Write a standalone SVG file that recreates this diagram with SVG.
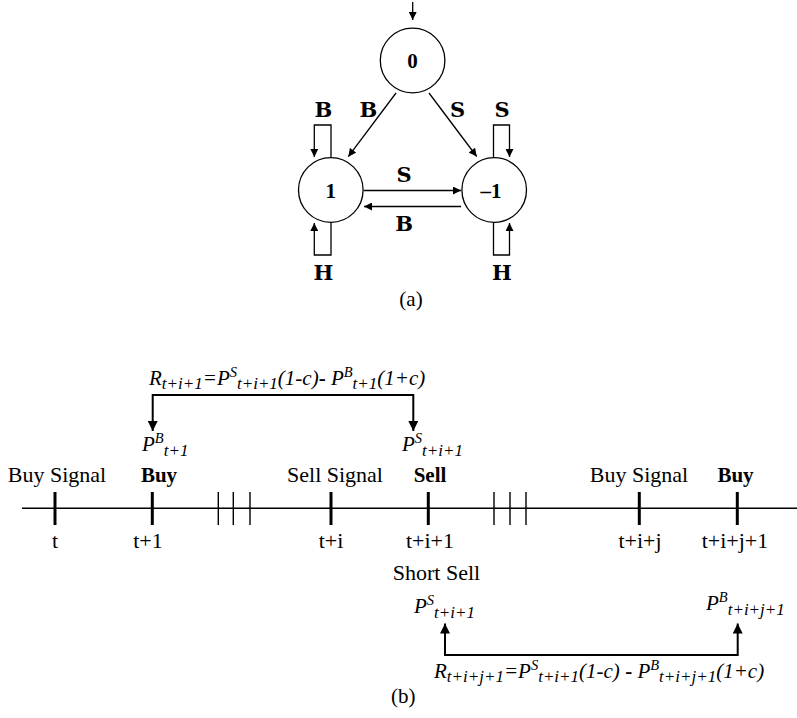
<svg xmlns="http://www.w3.org/2000/svg" width="797" height="718" viewBox="0 0 797 718">
  <style>
    .st { fill: #fff; stroke: #000; stroke-width: 1.3; }
    .num { font-family: "Liberation Serif", "Times New Roman", serif; font-weight: bold; font-size: 21px; text-anchor: middle; }
    .lbl { font-family: "DejaVu Serif", "Liberation Serif", serif; font-weight: bold; font-size: 21px; text-anchor: middle; }
    .cap { font-family: "Liberation Serif", "Times New Roman", serif; font-size: 21px; }
    .tl { font-family: "Liberation Serif", "Times New Roman", serif; font-size: 22px; text-anchor: middle; }
    .tb { font-family: "Liberation Serif", "Times New Roman", serif; font-size: 21px; font-weight: bold; text-anchor: middle; }
    .f { font-family: "Liberation Serif", "Times New Roman", serif; font-size: 21px; font-style: italic; }
    .sb { font-size: 17px; }
    .sp { font-size: 14.5px; }
    .dash { font-style: normal; font-weight: bold; }
    .ln { fill: none; stroke: #000; stroke-width: 1.3; }
    .ax { fill: none; stroke: #000; stroke-width: 1.4; }
    .bk { fill: none; stroke: #000; stroke-width: 2; }
    .tk { stroke: #000; stroke-width: 3; }
    .hk { stroke: #000; stroke-width: 1.4; }
  </style>
  <defs>
    <marker id="ah" viewBox="0 0 10 10" refX="10" refY="5" markerUnits="userSpaceOnUse" markerWidth="9" markerHeight="8" orient="auto">
      <path d="M0,0 L10,5 L0,10 z" fill="#000"/>
    </marker>
  </defs>

  <!-- (a) state machine -->
  <g id="connectors">
    <path class="ln" d="M412.7,2 V20" marker-end="url(#ah)"/>
    <path class="ln" d="M396,93 L348.3,156.7" marker-end="url(#ah)"/>
    <path class="ln" d="M429,93 L476.7,156.5" marker-end="url(#ah)"/>
    <path class="ln" d="M364,190.5 H461" marker-end="url(#ah)"/>
    <path class="ln" d="M461,206.5 H364" marker-end="url(#ah)"/>
    <path class="ln" d="M331,158 V125 H314.3 V157" marker-end="url(#ah)"/>
    <path class="ln" d="M331,222 V255 H314.3 V223" marker-end="url(#ah)"/>
    <path class="ln" d="M493.5,158 V125 H509.5 V157" marker-end="url(#ah)"/>
    <path class="ln" d="M493.5,222 V255 H509.5 V223" marker-end="url(#ah)"/>
  </g>
  <g id="edge-labels">
    <text class="lbl" x="323.3" y="117">B</text>
    <text class="lbl" x="368.3" y="117">B</text>
    <text class="lbl" x="457.5" y="117">S</text>
    <text class="lbl" x="502" y="117">S</text>
    <text class="lbl" x="404.2" y="182.3">S</text>
    <text class="lbl" x="404.2" y="230.7">B</text>
    <text class="lbl" x="323.3" y="280">H</text>
    <text class="lbl" x="502" y="280">H</text>
  </g>
  <g id="state-0">
    <circle class="st" cx="412.6" cy="60.5" r="32.3"/>
    <text class="num" x="412.6" y="67.5">0</text>
  </g>
  <g id="state-1">
    <circle class="st" cx="330.8" cy="190" r="32.3"/>
    <text class="num" x="330.8" y="197.5">1</text>
  </g>
  <g id="state-minus1">
    <circle class="st" cx="494.2" cy="190" r="32.3"/>
    <text class="num" x="491" y="197.5">–1</text>
  </g>
  <text class="cap" x="411" y="306" text-anchor="middle">(a)</text>

  <!-- (b) trading timeline -->
  <g id="timeline">
    <line class="ax" x1="22" y1="508.3" x2="797" y2="508.3"/>
    <line class="tk" x1="55" y1="492" x2="55" y2="525"/>
    <line class="tk" x1="152.3" y1="492" x2="152.3" y2="525"/>
    <line class="hk" x1="218.3" y1="492" x2="218.3" y2="525"/>
    <line class="hk" x1="233.3" y1="492" x2="233.3" y2="525"/>
    <line class="hk" x1="250" y1="492" x2="250" y2="525"/>
    <line class="tk" x1="331" y1="492" x2="331" y2="525"/>
    <line class="tk" x1="428.3" y1="492" x2="428.3" y2="525"/>
    <line class="hk" x1="494" y1="492" x2="494" y2="525"/>
    <line class="hk" x1="510" y1="492" x2="510" y2="525"/>
    <line class="hk" x1="526" y1="492" x2="526" y2="525"/>
    <line class="tk" x1="639.3" y1="492" x2="639.3" y2="525"/>
    <line class="tk" x1="737.3" y1="492" x2="737.3" y2="525"/>
  </g>
  <g id="event-labels">
    <text class="tl" x="57" y="482">Buy Signal</text>
    <text class="tb" x="159" y="482">Buy</text>
    <text class="tl" x="335" y="482">Sell Signal</text>
    <text class="tb" x="430" y="482">Sell</text>
    <text class="tl" x="639" y="482">Buy Signal</text>
    <text class="tb" x="735.5" y="482">Buy</text>
  </g>
  <g id="time-labels">
    <text class="tl" x="55" y="548">t</text>
    <text class="tl" x="148" y="548">t+1</text>
    <text class="tl" x="331" y="548">t+i</text>
    <text class="tl" x="430" y="548">t+i+1</text>
    <text class="tl" x="640" y="548">t+i+j</text>
    <text class="tl" x="735" y="548">t+i+j+1</text>
    <text class="tl" x="436.5" y="580">Short Sell</text>
  </g>

  <g id="long-trade">
    <path class="bk" d="M152.7,431 V395 H413.3 V431" fill="none"/>
    <path d="M147.7,421 L157.7,421 L152.7,431 z M408.3,421 L418.3,421 L413.3,431 z" fill="#000"/>
    <text class="f" x="149" y="385">R<tspan class="sb" dy="4">t+i+1</tspan><tspan dy="-4">=P</tspan><tspan class="sp" dy="-8">S</tspan><tspan class="sb" dy="12">t+i+1</tspan><tspan dy="-4">(1-c)</tspan><tspan class="dash">- </tspan>P<tspan class="sp" dy="-8">B</tspan><tspan class="sb" dy="12">t+1</tspan><tspan dy="-4">(1+c)</tspan></text>
    <text class="f" x="142" y="451">P<tspan class="sp" dy="-8.5">B</tspan><tspan class="sb" dy="13.5">t+1</tspan></text>
    <text class="f" x="402" y="451">P<tspan class="sp" dy="-8.5">S</tspan><tspan class="sb" dy="13.5">t+i+1</tspan></text>
  </g>

  <g id="short-trade">
    <path class="bk" d="M445,623.5 V655 H737.7 V623.5" fill="none"/>
    <path d="M440,633.5 L450,633.5 L445,623.5 z M732.7,633.5 L742.7,633.5 L737.7,623.5 z" fill="#000"/>
    <text class="f" x="414" y="613">P<tspan class="sp" dy="-8.5">S</tspan><tspan class="sb" dy="13.5">t+i+1</tspan></text>
    <text class="f" x="706" y="610">P<tspan class="sp" dy="-8.5">B</tspan><tspan class="sb" dy="13.5">t+i+j+1</tspan></text>
    <text class="f" x="434" y="678">R<tspan class="sb" dy="4">t+i+j+1</tspan><tspan dy="-4">=P</tspan><tspan class="sp" dy="-8">S</tspan><tspan class="sb" dy="12">t+i+1</tspan><tspan dy="-4">(1-c) </tspan><tspan class="dash">- </tspan>P<tspan class="sp" dy="-8">B</tspan><tspan class="sb" dy="12">t+i+j+1</tspan><tspan dy="-4">(1+c)</tspan></text>
  </g>
  <text class="cap" x="391" y="703">(b)</text>
</svg>
